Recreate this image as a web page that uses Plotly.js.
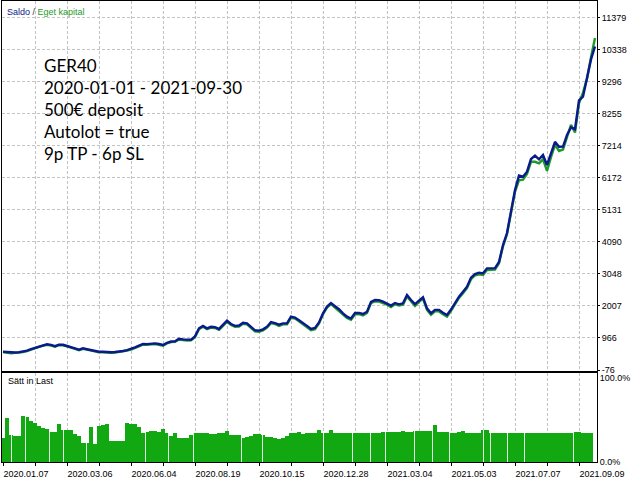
<!DOCTYPE html>
<html>
<head>
<meta charset="utf-8">
<script src="https://cdn.plot.ly/plotly-3.0.1.min.js"></script>
<style>html,body{margin:0;padding:0;background:#fff;}#chart{width:640px;height:480px;}</style>
</head>
<body>
<div id="chart"></div>
<script>
// Deal axis: one sample every 4 deals
const step = 4;

const balance = [519,505,490,495,500,520,552,605,650,695,
 730,760,740,700,750,745,705,680,630,585,
 630,600,570,535,519,519,505,500,508,520,
 542,572,610,660,715,770,765,775,790,770,
 737,810,850,860,940,922,905,910,1020,1280,
 1356,1280,1330,1320,1260,1388,1528,1420,1360,1370,
 1463,1440,1320,1215,1205,1248,1333,1480,1450,1400,
 1440,1440,1659,1630,1540,1460,1360,1260,1290,1470,
 1769,1986,2100,2000,1900,1769,1659,1600,1780,1782,
 1746,1821,2140,2200,2195,2146,2094,2020,2105,2060,
 2094,2365,2200,2065,2180,2290,1932,1770,1880,1880,
 1789,1714,1890,2120,2310,2472,2635,2930,3045,3090,
 3070,3233,3240,3240,3440,3990,4380,5090,5780,6250,
 6215,6378,6790,6900,6780,6920,6595,6970,7350,7190,
 7192,7571,7820,7760,8700,8817,9468,10030,10450];

const equity = [505,490,470,480,485,505,535,590,630,680,
 715,740,720,680,735,725,690,660,610,565,
 610,585,550,515,500,500,485,480,490,505,
 525,555,590,640,700,750,745,755,770,745,
 715,790,830,840,915,900,880,890,990,1250,
 1330,1250,1300,1290,1230,1360,1500,1390,1330,1340,
 1430,1410,1290,1180,1170,1215,1300,1450,1420,1360,
 1410,1410,1620,1600,1510,1420,1320,1220,1250,1440,
 1740,1950,2070,1960,1860,1730,1620,1560,1740,1740,
 1700,1780,2100,2160,2150,2100,2050,1970,2060,2020,
 2050,2320,2150,2010,2140,2250,1880,1720,1830,1830,
 1740,1660,1850,2080,2270,2420,2590,2880,3000,3040,
 3020,3180,3190,3190,3400,3950,4340,5050,5720,6100,
 6120,6300,6700,6700,6650,6780,6400,6850,7250,7050,
 7100,7500,7900,7650,8600,8950,9400,10100,10730];

// Deposit load, percent
const load = [28,53,32,31,31,55,54,49,46,43,
 40,39,36,36,45,38,38,38,33,31,
 23,23,42,21,43,44,45,25,25,25,
 25,47,45,45,42,35,36,37,37,36,
 39,34,31,35,29,29,29,32,35,35,
 34,35,33,33,34,34,37,32,32,32,
 29,30,31,33,33,32,30,30,28,27,
 29,31,35,34,36,33,34,34,34,38,
 35,35,38,35,35,35,35,35,35,35,
 35,35,35,35,35,36,36,36,36,36,
 37,36,36,37,37,37,37,37,44,36,
 36,36,35,35,36,37,35,35,35,35,
 38,38,35,35,35,35,35,34,34,34,
 34,35,35,35,35,35,35,35,35,35,
 35,35,35,36,36,34,34,34];

// Deals with no open load (thin gaps in the load histogram)
const loadGaps = [8,22,46,60,83,142,165,190,238,259,320,349,367,382,411,429,446,480,487,504,521,570];

const yTickVals = [-76,966,2007,3048,4090,5131,6172,7214,8255,9296,10338,11379];
const xTickVals = [0,32,64,96,128,160,192,224,256,288,320,352,384,416,448,480,512,544,576];
const xTickText = ["2020.01.07","","2020.03.06","","2020.06.04","","2020.08.19","","2020.10.15","",
                   "2020.12.28","","2021.03.04","","2021.05.03","","2021.07.07","","2021.09.09"];
const loadTickVals = [0,100];
const loadTickText = ["0.0%","100.0%"];

const infoLines = ["GER40","2020-01-01 - 2021-09-30","500€ deposit","Autolot = true","9p TP - 6p SL"];

const xb = balance.map((v,i)=>i*step);
const xl = load.map((v,i)=>i*step);

const gridCol = "#c4c4c4";
const tickFont = {family:"Liberation Sans, Arial, sans-serif", size:9, color:"#000"};

const traces = [
  {x:xb, y:equity, type:"scatter", mode:"lines", line:{color:"#1e9a2a", width:2.4}, xaxis:"x", yaxis:"y", hoverinfo:"skip"},
  {x:xb, y:balance, type:"scatter", mode:"lines", line:{color:"#0a1a8c", width:2.4}, xaxis:"x", yaxis:"y", hoverinfo:"skip"},
  {x:xl, y:load, type:"bar", width:step, marker:{color:"#12a812", line:{width:0}}, xaxis:"x2", yaxis:"y2", hoverinfo:"skip"},
  {x:loadGaps, y:loadGaps.map(g=>load[Math.min(load.length-1, Math.round(g/step))]), type:"bar", width:1,
   marker:{color:"rgba(235,250,235,0.95)", line:{width:0}}, xaxis:"x2", yaxis:"y2", hoverinfo:"skip"}
];

const layout = {
  width:640, height:480,
  margin:{l:2, r:43, t:1, b:18},
  paper_bgcolor:"#fff", plot_bgcolor:"#fff",
  showlegend:false,
  barmode:"overlay", bargap:0,
  xaxis:{anchor:"y", domain:[0,1], range:[-1,594], tickvals:xTickVals, showticklabels:false,
         showgrid:true, gridcolor:gridCol, griddash:"3px,2px", gridwidth:1, zeroline:false,
         showline:true, mirror:true, linecolor:"#000", linewidth:1, ticks:""},
  xaxis2:{anchor:"y2", domain:[0,1], range:[-1,594], tickvals:xTickVals, ticktext:xTickText,
         showgrid:true, gridcolor:gridCol, griddash:"3px,2px", gridwidth:1, zeroline:false,
         showline:true, mirror:true, linecolor:"#000", linewidth:1,
         ticks:"outside", ticklen:3, tickcolor:"#000", tickfont:tickFont, ticklabelshift:23, tickangle:0},
  yaxis:{anchor:"x", domain:[0.1974,1], side:"right", range:[-108.5,11931], tickvals:yTickVals,
         ticktext:yTickVals.map(String), showgrid:true, gridcolor:gridCol, griddash:"3px,2px", zeroline:false,
         showline:true, mirror:true, linecolor:"#000", linewidth:1, ticks:"outside", ticklen:2, tickcolor:"#000",
         tickfont:tickFont},
  yaxis2:{anchor:"x2", domain:[0,0.193], side:"right", range:[0,106], tickvals:loadTickVals, ticktext:loadTickText,
         showgrid:false, zeroline:false, showline:true, mirror:true, linecolor:"#000", linewidth:1,
         ticks:"", tickfont:tickFont},
  annotations:[
    {xref:"paper", yref:"paper", x:0.005, y:0.9768, xanchor:"left", yanchor:"middle", showarrow:false,
     text:'<span style="color:#0a1a8c">Saldo</span><span style="color:#333"> / </span><span style="color:#1e9a2a">Eget kapital</span>',
     font:{family:"Liberation Sans, Arial, sans-serif", size:9}},
    {xref:"paper", yref:"paper", x:0.0075, y:0.1764, xanchor:"left", yanchor:"middle", showarrow:false,
     text:"Sätt in Last", font:{family:"Liberation Sans, Arial, sans-serif", size:9, color:"#000"}},
    {xref:"paper", yref:"paper", x:0.0672, y:0.7636, xanchor:"left", yanchor:"middle", align:"left", showarrow:false,
     text:infoLines.join("<br>"), font:{family:"Lato, sans-serif", size:17, color:"#000"}}
  ]
};

Plotly.newPlot("chart", traces, layout, {staticPlot:true, displayModeBar:false});
</script>
</body>
</html>
